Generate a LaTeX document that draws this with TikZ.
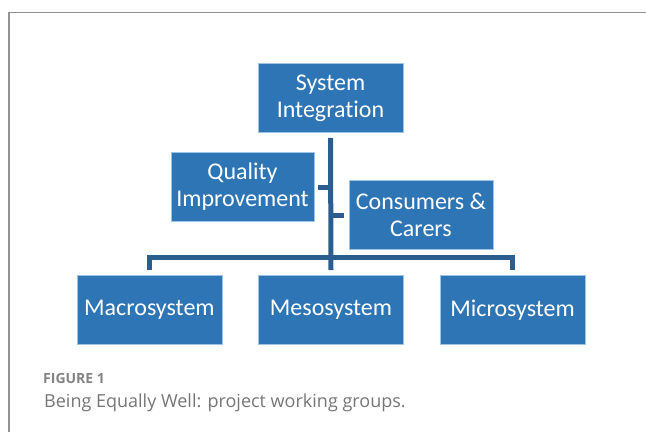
\documentclass[tikz,border=0pt]{standalone}
\usepackage{fontspec}
\setmainfont[Ligatures=NoCommon]{Carlito}
\newfontfamily\capfont{Open Sans}
\usetikzlibrary{positioning}
\definecolor{boxblue}{HTML}{2E75B6}
\definecolor{boxedge}{HTML}{9DC3E6}
\definecolor{linkblue}{HTML}{2B5D8E}
\definecolor{capgray}{HTML}{767676}

\begin{document}
\begin{tikzpicture}[x=1pt, y=-1pt,
    box/.style={draw=boxedge, line width=.6pt, fill=boxblue, text=white, align=center,
        minimum width=145pt, minimum height=69pt, inner sep=0pt,
        font=\fontsize{24}{27}\selectfont},
    link/.style={draw=linkblue, line width=5pt}] % y 向下, 单位 pt
    \useasboundingbox (0, 0) rectangle (646, 432);
    \draw[capgray!80, line width=1.2pt] (646, 12.5) -- (9, 12.5) -- (9, 432); % 外框
    % 方框
    \node[box] (sysint) at (330.5, 98) {System\\Integration};
    \node[box, minimum width=143pt] (quality) at (242.5, 186.5) {Quality\\Improvement};
    \node[box, minimum width=144pt] (carers) at (421, 214.5) {Consumers \&\\Carers};
    \node[box] (meso) at (331, 310) {Mesosystem};
    \node[box, left=36pt of meso] (macro) {Macrosystem};
    \node[box, right=36pt of meso] (micro) {Microsystem};
    % 连线
    \coordinate (bar) at (331, 257.5);
    \coordinate (qjoin) at (331, 187);
    \coordinate (cjoin) at (331, 215);
    \draw[link] ([yshift=-5pt]sysint.south) -- ([yshift=5pt]meso.north);
    \draw[link] ([yshift=5pt]macro.north) |- (bar) -| ([yshift=5pt]micro.north);
    \draw[link] (qjoin) -- ([xshift=4pt]quality.east |- qjoin);
    \draw[link] (cjoin) -- ([xshift=-5pt]carers.west |- cjoin);
    % 图题
    \node[anchor=base west, inner sep=0pt, text=capgray!90, font=\capfont\bfseries\fontsize{14}{16}\selectfont] (fig) at (43, 383) {FIGURE 1};
    \node[anchor=base west, inner sep=0pt, text=capgray, font=\capfont\fontsize{18}{21}\selectfont] (cap) at (44, 407) {Being Equally Well: project working groups.};
\end{tikzpicture}
\end{document}
